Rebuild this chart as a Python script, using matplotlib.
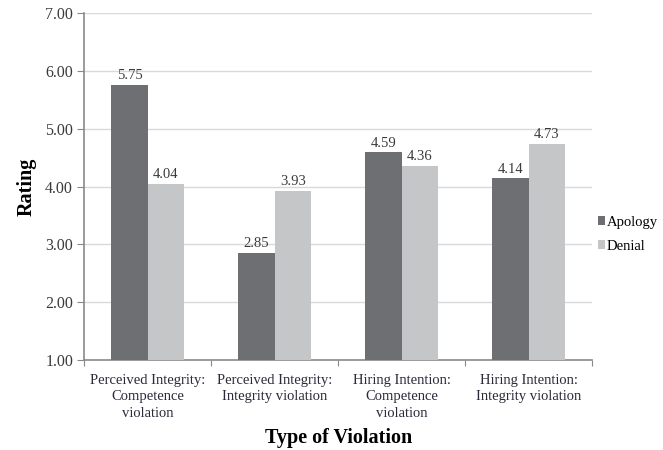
import matplotlib
matplotlib.use("Agg")
import matplotlib.pyplot as plt
import numpy as np

# DATA
categories = ["Perceived Integrity:\nCompetence\nviolation",
              "Perceived Integrity:\nIntegrity violation",
              "Hiring Intention:\nCompetence\nviolation",
              "Hiring Intention:\nIntegrity violation"]
apology = [5.75, 2.85, 4.59, 4.14]
denial = [4.04, 3.93, 4.36, 4.73]
y_ticks = [1, 2, 3, 4, 5, 6, 7]

plt.rcParams['font.family'] = ['Liberation Serif', 'DejaVu Serif']

fig = plt.figure(figsize=(6.63, 4.5), dpi=100)
ax = fig.add_axes([0.127, 0.2, 0.766, 0.771])

x = np.arange(len(categories))
w = 0.285
b1 = ax.bar(x - w / 2, np.array(apology) - 1, w, bottom=1, color="#6e6f72", label="Apology", zorder=3)
b2 = ax.bar(x + w / 2, np.array(denial) - 1, w, bottom=1, color="#c5c6c8", label="Denial", zorder=3)

for bars, vals in ((b1, apology), (b2, denial)):
    for r, v in zip(bars, vals):
        ax.text(r.get_x() + r.get_width() / 2, v + 0.05, "%.2f" % v,
                ha="center", va="bottom", fontsize=10.5, color="#3a3a3a")

ax.set_ylim(1, 7)
ax.set_xlim(-0.5, 3.5)
ax.set_yticks(y_ticks)
ax.set_yticklabels(["%.2f" % t for t in y_ticks], fontsize=11.5, color="#3a3a3a")
ax.yaxis.grid(True, color="#d9d9d9", linewidth=1, zorder=0)

# category labels between boundary ticks
ax.set_xticks(np.arange(-0.5, 4, 1))
ax.set_xticklabels([])
ax.set_xticks(x, minor=True)
ax.set_xticklabels(categories, minor=True, fontsize=10.5, color="#2a2a3a", linespacing=1.35)
ax.tick_params(axis="x", which="minor", length=0, pad=10)
ax.tick_params(axis="x", which="major", length=4, color="#888888")
ax.tick_params(axis="y", length=5, color="#888888", pad=3)

for s in ("top", "right"):
    ax.spines[s].set_visible(False)
for s in ("left", "bottom"):
    ax.spines[s].set_color("#8a8a8a")
    ax.spines[s].set_linewidth(1.2)

ax.set_ylabel("Rating", fontsize=14.5, fontweight="bold", labelpad=6)
ax.set_xlabel("Type of Violation", fontsize=14.5, fontweight="bold")
ax.xaxis.set_label_coords(0.5, -0.225)
ax.xaxis.label.set_va("center")

ax.legend(loc="center left", bbox_to_anchor=(1.012, 0.363), frameon=False,
          fontsize=10.5, handlelength=0.5, handleheight=0.5, handletextpad=0.1,
          labelspacing=0.75, borderaxespad=0, borderpad=0)

fig.savefig("out.png")
